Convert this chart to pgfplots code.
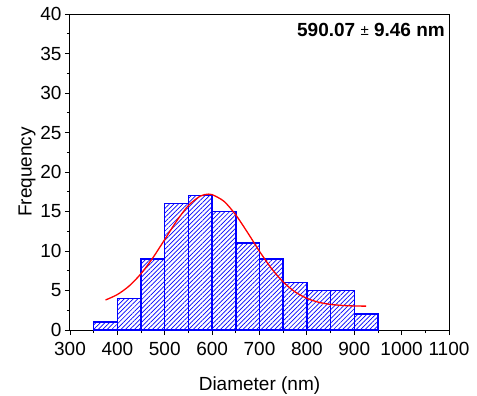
\documentclass[border=0pt]{standalone}
\usepackage{fontspec}
\setmainfont{Liberation Sans}
\usepackage{pgfplots}
\pgfplotsset{compat=1.18}
\usetikzlibrary{patterns.meta}
\begin{document}
\begin{tikzpicture}
\useasboundingbox (-70bp,-66bp) rectangle (407bp,330bp);
\begin{axis}[
  scale only axis, width=379bp, height=316bp,
  xmin=300, xmax=1100, ymin=0, ymax=40,
  xtick={300,400,...,1100}, ytick={0,5,...,40},
  minor x tick num=1, minor y tick num=1,
  xtick pos=left, ytick pos=left,
  tick align=outside,
  major tick length=5bp, minor tick length=3bp,
  axis line style={line width=1bp},
  tick style={black, line width=0.8bp},
  /pgf/number format/assume math mode=true,
  /pgf/number format/set thousands separator={},
  tick label style={font=\fontsize{19bp}{22bp}\selectfont},
  xticklabel style={yshift=-4bp},
  label style={font=\fontsize{19bp}{22bp}\selectfont},
  xlabel={Diameter (nm)}, ylabel={Frequency},
  xlabel style={yshift=-14bp},
  ylabel style={yshift=-2bp},
  clip=false,
]
\addplot[ybar interval, draw=blue, line width=1.5bp,
  pattern={Lines[angle=45,distance=3.2bp,line width=0.7bp]}, pattern color=blue]
  coordinates {(350,1) (400,4) (450,9) (500,16) (550,17) (600,15) (650,11)
               (700,9) (750,6) (800,5) (850,5) (900,2) (950,2)};
\addplot[red, line width=1.3bp, smooth, no marks] coordinates {
  (375,3.80) (400,4.49) (425,5.58) (450,7.14) (475,9.15) (500,11.46)
  (525,13.79) (550,15.75) (575,16.95) (592,17.20) (600,17.14) (625,16.29)
  (650,14.56) (675,12.32) (700,9.96) (725,7.81) (750,6.08) (775,4.83)
  (800,4.01) (825,3.51) (850,3.24) (875,3.11) (900,3.04) (925,3.02)};
\node[anchor=north east, inner sep=0pt, xshift=-4bp, yshift=-9bp,
  font=\fontsize{19bp}{22bp}\selectfont\bfseries]
  at (rel axis cs:1,1) {590.07 {\mdseries\fontsize{15bp}{15bp}\selectfont\raisebox{0.5bp}{±}} 9.46 nm};
\end{axis}
\end{tikzpicture}
\end{document}
